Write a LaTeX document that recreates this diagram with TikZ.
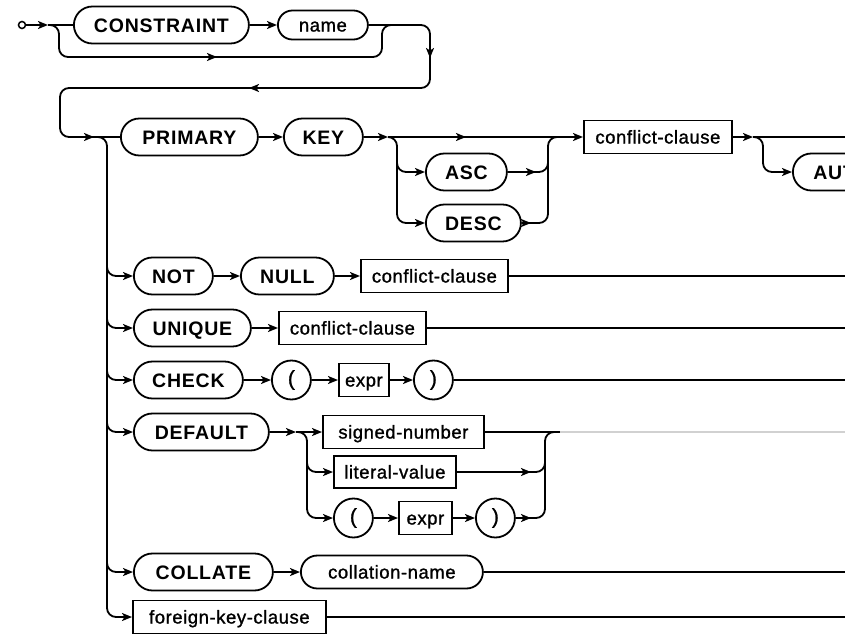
\documentclass[tikz,border=0pt]{standalone}
\usepackage{fontspec}
\setmainfont{Liberation Sans}
\newfontfamily\kwfont[LetterSpace=4]{Liberation Sans}
\newfontfamily\ntfont[LetterSpace=3,FakeBold=1.2]{Liberation Sans}
\usetikzlibrary{shapes.misc,arrows.meta,calc}
\tikzset{
  base/.style={draw, line width=1.8pt, inner sep=0pt, anchor=west, fill=white},
  kw/.style={base, rounded rectangle, minimum height=37pt, text height=14pt, text depth=0pt, font=\kwfont\bfseries\fontsize{19.5}{22}\selectfont},
  nm/.style={base, rounded rectangle, minimum height=29pt, text height=13pt, text depth=0pt, font=\ntfont\fontsize{18.5}{21}\selectfont},
  ntbox/.style={base, rectangle, minimum height=33pt, text height=13pt, text depth=0pt, font=\ntfont\fontsize{18.5}{21}\selectfont},
  paren/.style={base, circle, minimum size=39pt, font=\ntfont\fontsize{21}{23}\selectfont},
  ln/.style={line width=1.8pt},
  arr/.style={ln, -{Stealth[length=10pt,width=8pt,inset=2.5pt]}},
  rc/.style={ln, rounded corners=9pt},
}
\begin{document}
\begin{tikzpicture}[x=1pt,y=-1pt]
\path[use as bounding box] (0,0) rectangle (845,637);
\clip (0,0) rectangle (845,637);
% nodes
\node[draw, circle, line width=1.5pt, minimum size=7pt, inner sep=0pt] (start) at (22,25) {};
\node[kw, minimum width=175pt] (cons) at (73,25) {CONSTRAINT};
\node[nm, minimum width=90pt] (name) at (277,25) {name};
\node[kw, minimum width=137pt] (prim) at (120,137) {PRIMARY};
\node[kw, minimum width=79pt] (key) at (283,137) {KEY};
\node[kw, minimum width=81pt] (asc) at (425,172) {ASC};
\node[kw, minimum width=95pt] (desc) at (425,223) {DESC};
\node[ntbox, minimum width=148pt] (cc1) at (583,137) {conflict-clause};
\node[kw, minimum width=221pt] (auto) at (792,172) {AUTOINCREMENT};
\node[kw, minimum width=79pt] (not) at (133,276) {NOT};
\node[kw, minimum width=93pt] (null) at (240,276) {NULL};
\node[ntbox, minimum width=147pt] (cc2) at (360,276) {conflict-clause};
\node[kw, minimum width=117pt] (uniq) at (133,328) {UNIQUE};
\node[ntbox, minimum width=147pt] (cc3) at (278,328) {conflict-clause};
\node[kw, minimum width=109pt] (check) at (133,380) {CHECK};
\node[paren] (lp1) at (271,380) {(};
\node[ntbox, minimum width=50pt] (expr1) at (338,380) {expr};
\node[paren] (rp1) at (413,380) {)};
\node[kw, minimum width=135pt] (dflt) at (133,432) {DEFAULT};
\node[ntbox, minimum width=161pt] (snum) at (322,432) {signed-number};
\node[ntbox, minimum width=122pt, minimum height=32pt] (lval) at (333,472) {literal-value};
\node[paren] (lp2) at (333,518) {(};
\node[ntbox, minimum width=53pt] (expr2) at (398,518) {expr};
\node[paren] (rp2) at (475,518) {)};
\node[kw, minimum width=139pt] (coll) at (133,572) {COLLATE};
\node[nm, minimum width=182pt, minimum height=33pt] (cname) at (300,572) {collation-name};
\node[ntbox, minimum width=193pt] (fk) at (132,617) {foreign-key-clause};
% start and CONSTRAINT name
\coordinate (s1) at (48,25);
\draw[arr] (start) -- (s1);
\draw[ln] (s1) -- (cons.west);
\draw[rc] (s1) -- (59,25) -- (59,57) -- (382,57) -- (382,25) -- (395,25);
\draw[arr] (205,57) -- (217,57);
\draw[arr] (cons.east) -- (name.west);
% wrap to next line
\coordinate (m) at (97,137);
\draw[rc] (name.east) -- (430,25) -- (430,88) -- (60,88) -- (60,137) -- (m);
\draw[arr] (430,46) -- (430,58);
\draw[arr] (262,88) -- (249,88);
\draw[arr] (82,137) -- (94,137);
% main vertical
\draw[ln] (m) -- (prim.west);
\draw[rc, arr] (m) -- (107,137) -- (107,617) -- (fk.west);
\foreach \n in {not,uniq,check,dflt,coll}{
  \draw[rc, arr] ($(\n.west)+(-26,-30)$) |- (\n.west);
}
% PRIMARY KEY
\draw[arr] (prim.east) -- (key.west);
\coordinate (k1) at (388,137);
\draw[arr] (key.east) -- (k1);
\draw[arr] (k1) -- (cc1.west);
\draw[arr] (453,137) -- (466,137);
\draw[rc, arr] (k1) -- (397,137) -- (397,172) -- (asc.west);
\draw[rc, arr] (397,150) -- (397,223) -- (desc.west);
\draw[arr] (asc.east) -- (536,172);
\draw[rc] (534,172) -- (548,172) -- (548,137) -- (562,137);
\draw[arr] (desc.east) -- (531,223);
\draw[rc] (529,223) -- (548,223) -- (548,160);
\coordinate (c1) at (753,137);
\draw[arr] (cc1.east) -- (c1);
\draw[ln] (c1) -- (850,137);
\draw[rc, arr] (c1) -- (763,137) -- (763,172) -- (auto.west);
% NOT NULL
\draw[arr] (not.east) -- (null.west);
\draw[arr] (null.east) -- (cc2.west);
\draw[ln] (cc2.east) -- (850,276);
% UNIQUE
\draw[arr] (uniq.east) -- (cc3.west);
\draw[ln] (cc3.east) -- (850,328);
% CHECK
\draw[arr] (check.east) -- (lp1.west);
\draw[arr] (lp1.east) -- (expr1.west);
\draw[arr] (expr1.east) -- (rp1.west);
\draw[ln] (rp1.east) -- (850,380);
% DEFAULT
\coordinate (d1) at (296,432);
\draw[arr] (dflt.east) -- (d1);
\draw[arr] (d1) -- (snum.west);
\draw[rc, arr] (d1) -- (307,432) -- (307,472) -- (lval.west);
\draw[rc, arr] (307,455) -- (307,518) -- (lp2.west);
\draw[arr] (lp2.east) -- (expr2.west);
\draw[arr] (expr2.east) -- (rp2.west);
\draw[arr] (rp2.east) -- (531,518);
\draw[arr] (lval.east) -- (531,472);
\draw[rc] (529,518) -- (545,518) -- (545,432) -- (562,432);
\draw[rc] (529,472) -- (545,472) -- (545,455);
\draw[ln] (snum.east) -- (560,432);
\draw[line width=1.8pt, black!18] (560,432) -- (850,432);
% COLLATE
\draw[arr] (coll.east) -- (cname.west);
\draw[ln] (cname.east) -- (850,572);
% foreign key
\draw[ln] (fk.east) -- (850,617);
\end{tikzpicture}
\end{document}
